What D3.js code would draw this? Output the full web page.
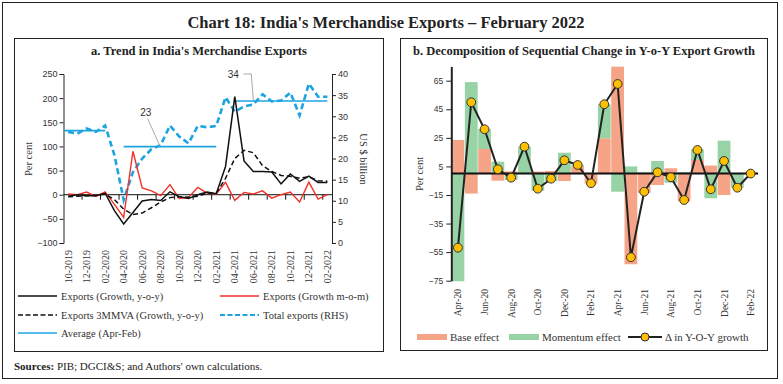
<!DOCTYPE html>
<html><head><meta charset="utf-8">
<script src="https://cdn.jsdelivr.net/npm/d3@7"></script>
<style>body{margin:0;background:#fff}svg{display:block}</style>
</head><body><svg id="c" width="783" height="384"></svg>
<script>
// ---------- Panel a data ----------
const monthsA = ["10-2019","11-2019","12-2019","01-2020","02-2020","03-2020","04-2020","05-2020","06-2020","07-2020","08-2020","09-2020","10-2020","11-2020","12-2020","01-2021","02-2021","03-2021","04-2021","05-2021","06-2021","07-2021","08-2021","09-2021","10-2021","11-2021","12-2021","01-2022","02-2022"];
const exportsYoY   = [-3, 0, -2, -2, 3, -33, -60.5, -37, -13, -10, -12, 6, -4, -8, 0, 5.5, 2, 58.5, 203, 70, 48, 48, 47, 22.5, 43, 27.5, 38.5, 25.5, 25.5];
const exportsMoM   = [1.4, 0, 5.5, -3.5, 6, -20, -47, 90, 14, 8, -2, 21, -8, -5.6, 15, 3.5, 1.4, 25.5, -11.7, 4.8, 1.4, 8, -7, 0, 5.6, -15, 26, -9, 0];
const exports3MMVA = [-4, -3, -2, -1, 1, -10, -30, -41, -38, -27, -15, -6, -4, -5, -3, 3, 3, 34, 75, 92, 87, 60, 48, 40, 38, 34, 37, 29, 28];
const totalExports = [26.3, 25.9, 27.1, 26.3, 27.8, 20.8, 10.2, 16.8, 20.0, 22.2, 23.2, 27.8, 25.2, 23.6, 27.7, 27.4, 27.7, 34.5, 31.1, 32.3, 32.8, 35.2, 33.5, 33.7, 35.6, 30.2, 37.7, 34.6, 34.6];
const avgFrom  = ["10-2019", "04-2020", "04-2021"];
const avgTo    = ["02-2020", "02-2021", "02-2022"];
const avgValue = [26.6, 22.8, 33.6];
const avgLabelMonth = ["08-2020", "06-2021"];
const avgLabelText  = ["23", "34"];
const yTicksL = [-100, -50, 0, 50, 100, 150, 200, 250];
const yTicksR = [0, 5, 10, 15, 20, 25, 30, 35, 40];

// ---------- Panel b data ----------
const monthsB = ["Apr-20","May-20","Jun-20","Jul-20","Aug-20","Sep-20","Oct-20","Nov-20","Dec-20","Jan-21","Feb-21","Mar-21","Apr-21","May-21","Jun-21","Jul-21","Aug-21","Sep-21","Oct-21","Nov-21","Dec-21","Jan-22","Feb-22"];
const baseEffect     = [23.5, -14, 17.2, -5, 1.5, 0, 1.4, 1.8, -5.2, 4.8, -7, 24.7, 74.8, -63.5, -13.5, -8, 3.7, -19.5, 9.5, 5.6, -15, 0, 0.5];
const momentumEffect = [-75.4, 64, 13.8, 8.3, -4.5, 18.8, -12, -5.4, 14.6, 1.2, 0.2, 23.8, -12.7, 5, 0.8, 8.8, -6.4, 1, 7.5, -17.3, 23, -9.9, -0.5];
const yoyChange      = [-51.9, 49.9, 31, 3, -2.9, 18.8, -10.6, -3.6, 9.3, 6, -6.8, 48.5, 62.7, -58.6, -12.7, 0.9, -2.6, -18.5, 16.5, -11, 8.8, -9.9, 0];
const yTicksB = [-75, -55, -35, -15, 5, 25, 45, 65];

const SERIF = "'Liberation Serif','DejaVu Serif',serif";
const SANS = "'Liberation Sans',Arial,sans-serif";

const svg = d3.select("#c");
svg.append("rect").attr("x",0).attr("y",0).attr("width",783).attr("height",384).attr("fill","#fff");
svg.append("rect").attr("x",2.5).attr("y",2.5).attr("width",775).attr("height",376).attr("fill","none").attr("stroke","#222").attr("stroke-width",1);
svg.append("text").attr("x",386).attr("y",28).attr("text-anchor","middle").attr("font-family",SERIF).attr("font-size",16.5).attr("font-weight","bold").attr("fill","#222")
  .text("Chart 18: India's Merchandise Exports – February 2022");
svg.append("rect").attr("x",14.5).attr("y",38.5).attr("width",369).attr("height",313).attr("fill","none").attr("stroke","#222");
svg.append("rect").attr("x",400.5).attr("y",38.5).attr("width",367).attr("height",312).attr("fill","none").attr("stroke","#222");
svg.append("text").attr("x",199).attr("y",55).attr("text-anchor","middle").attr("font-family",SERIF).attr("font-size",12.5).attr("font-weight","bold").attr("fill","#222")
  .text("a. Trend in India's Merchandise Exports");
svg.append("text").attr("x",584).attr("y",55).attr("text-anchor","middle").attr("font-family",SERIF).attr("font-size",12.5).attr("font-weight","bold").attr("fill","#222")
  .text("b. Decomposition of Sequential Change in Y-o-Y Export Growth");
const src = svg.append("text").attr("x",14).attr("y",370).attr("font-family",SERIF).attr("font-size",11).attr("fill","#222");
src.append("tspan").attr("font-weight","bold").text("Sources:");
src.append("tspan").text(" PIB; DGCI&S; and Authors' own calculations.");

// ================= Panel a =================
const xA = d3.scaleBand().domain(monthsA).range([63.5, 332]).padding(0);
const cx = m => xA(m) + xA.bandwidth()/2;
const yL = d3.scaleLinear().domain([-100, 250]).range([243, 74]);
const yR = d3.scaleLinear().domain([0, 40]).range([243, 74]);
const gA = svg.append("g");

function styleAxis(g, fs){
  g.selectAll("path.domain").attr("stroke","#222");
  g.selectAll(".tick line").attr("stroke","#222");
  g.selectAll(".tick text").attr("font-family",SANS).attr("font-size",fs).attr("fill","#333");
}
const axL = gA.append("g").attr("transform","translate(63.5,0)")
  .call(d3.axisLeft(yL).tickValues(yTicksL).tickSize(4).tickSizeOuter(4).tickPadding(2));
styleAxis(axL, 9);
const axR = gA.append("g").attr("transform","translate(332,0)")
  .call(d3.axisRight(yR).tickValues(yTicksR).tickSize(4).tickSizeOuter(4).tickPadding(2));
styleAxis(axR, 9);

// zero line with category ticks
gA.append("line").attr("x1",xA.range()[0]).attr("x2",xA.range()[1]).attr("y1",yL(0)).attr("y2",yL(0)).attr("stroke","#111").attr("stroke-width",1);
monthsA.forEach((m,i)=>{
  if(i>0 && i%2===0){
    gA.append("line").attr("x1",xA(m)).attr("x2",xA(m)).attr("y1",yL(0)).attr("y2",yL(0)+5).attr("stroke","#111");
  }
});
// x labels
monthsA.forEach((m,i)=>{
  if(i%2===0){
    gA.append("text").attr("transform",`translate(${cx(m)+3.5},250) rotate(-90)`).attr("text-anchor","end")
      .attr("font-family",SERIF).attr("font-size",10).attr("fill","#333").text(m);
  }
});
// axis titles
gA.append("text").attr("transform","translate(32,159) rotate(-90)").attr("text-anchor","middle").attr("font-family",SERIF).attr("font-size",10.5).attr("fill","#333").text("Per cent");
gA.append("text").attr("transform","translate(360,159) rotate(90)").attr("text-anchor","middle").attr("font-family",SERIF).attr("font-size",10.5).attr("fill","#333").text("US $ billion");

const BLUE = "#1DA4E0", RED = "#F0322A";
// average segments
avgValue.forEach((v,i)=>{
  const i0 = monthsA.indexOf(avgFrom[i]);
  const x1 = i0===0 ? xA.range()[0] : cx(avgFrom[i]);
  gA.append("line").attr("x1",x1).attr("x2",cx(avgTo[i])).attr("y1",yR(v)).attr("y2",yR(v)).attr("stroke",BLUE).attr("stroke-width",1.6);
});
const lineOf = (arr, sc) => d3.line().x((d,i)=>cx(monthsA[i])).y(d=>sc(d))(arr);
gA.append("path").attr("d",lineOf(totalExports,yR)).attr("fill","none").attr("stroke",BLUE).attr("stroke-width",2.6).attr("stroke-dasharray","6,3.5");
gA.append("path").attr("d",lineOf(exportsMoM,yL)).attr("fill","none").attr("stroke",RED).attr("stroke-width",1.4);
gA.append("path").attr("d",lineOf(exports3MMVA,yL)).attr("fill","none").attr("stroke","#111").attr("stroke-width",1.5).attr("stroke-dasharray","5,3");
gA.append("path").attr("d",lineOf(exportsYoY,yL)).attr("fill","none").attr("stroke","#111").attr("stroke-width",1.5);

// annotations
const ann0 = {x: cx(avgLabelMonth[0]), y: yR(avgValue[1])};
gA.append("line").attr("x1",ann0.x-13).attr("y1",ann0.y-28).attr("x2",ann0.x-1).attr("y2",ann0.y-1).attr("stroke","#aaa").attr("stroke-width",1);
gA.append("text").attr("x",ann0.x-15).attr("y",ann0.y-31).attr("text-anchor","middle").attr("font-family",SANS).attr("font-size",10).attr("fill","#333").text(avgLabelText[0]);
const ann1 = {x: cx(avgLabelMonth[1]), y: yR(avgValue[2])};
gA.append("path").attr("d",`M${ann1.x-10},${ann1.y-27}H${ann1.x-2}L${ann1.x},${ann1.y-1}`).attr("fill","none").attr("stroke","#aaa").attr("stroke-width",1);
gA.append("text").attr("x",ann1.x-20).attr("y",ann1.y-23).attr("text-anchor","middle").attr("font-family",SANS).attr("font-size",10).attr("fill","#333").text(avgLabelText[1]);

// legend a
const legA = [
  {t:"Exports (Growth, y-o-y)", c:"#111", d:null, w:1.6, col:0, row:0},
  {t:"Exports (Growth m-o-m)", c:RED, d:null, w:1.6, col:1, row:0},
  {t:"Exports 3MMVA (Growth, y-o-y)", c:"#111", d:"5,2.5", w:1.6, col:0, row:1},
  {t:"Total exports (RHS)", c:BLUE, d:"5,2.5", w:1.8, col:1, row:1},
  {t:"Average (Apr-Feb)", c:BLUE, d:null, w:1.6, col:0, row:2}
];
const legColX = [18, 220], legRowY = [296, 315, 333];
legA.forEach(l=>{
  const x = legColX[l.col], y = legRowY[l.row];
  gA.append("line").attr("x1",x).attr("x2",x+39).attr("y1",y).attr("y2",y).attr("stroke",l.c).attr("stroke-width",l.w).attr("stroke-dasharray",l.d);
  gA.append("text").attr("x",x+43).attr("y",y+3.5).attr("font-family",SERIF).attr("font-size",10.5).attr("fill","#333").text(l.t);
});

// ================= Panel b =================
const xB = d3.scaleBand().domain(monthsB).range([451.3, 757.3]).paddingInner(0.04).paddingOuter(0.02);
const yB = d3.scaleLinear().domain([-75, 75]).range([280.7, 66.4]);
const gB = svg.append("g");
const rows = monthsB.map((m,i)=>({month:m, base:baseEffect[i], momentum:momentumEffect[i]}));
const stack = d3.stack().keys(["base","momentum"]).offset(d3.stackOffsetDiverging)(rows);
const BASEC = "#F6A487", MOMC = "#97D3A4";
const colors = {base:BASEC, momentum:MOMC};
stack.forEach(s=>{
  gB.append("g").selectAll("rect").data(s).join("rect")
    .attr("x",d=>xB(d.data.month)).attr("width",xB.bandwidth())
    .attr("y",d=>yB(Math.max(d[0],d[1]))).attr("height",d=>Math.abs(yB(d[0])-yB(d[1])))
    .attr("fill",colors[s.key]);
});
const axB = gB.append("g").attr("transform","translate(451.3,0)")
  .call(d3.axisLeft(yB).tickValues(yTicksB).tickSize(5).tickSizeOuter(0).tickPadding(3));
styleAxis(axB, 8.5);
axB.select("path.domain").attr("stroke-width",2);
gB.append("line").attr("x1",451.3).attr("x2",758).attr("y1",yB(0)).attr("y2",yB(0)).attr("stroke","#111").attr("stroke-width",2);
const cxB = m => xB(m) + xB.bandwidth()/2;
gB.append("path").attr("d", d3.line().x((d,i)=>cxB(monthsB[i])).y(d=>yB(d))(yoyChange)).attr("fill","none").attr("stroke","#222").attr("stroke-width",2);
gB.selectAll("circle.dot").data(yoyChange).join("circle").attr("class","dot")
  .attr("cx",(d,i)=>cxB(monthsB[i])).attr("cy",d=>yB(d)).attr("r",4.4).attr("fill","#FFC000").attr("stroke","#333").attr("stroke-width",1);
monthsB.forEach((m,i)=>{
  if(i%2===0){
    gB.append("text").attr("transform",`translate(${cxB(m)+3.5},289) rotate(-90)`).attr("text-anchor","end")
      .attr("font-family",SERIF).attr("font-size",9.5).attr("fill","#333").text(m);
  }
});
gB.append("text").attr("transform","translate(423,174) rotate(-90)").attr("text-anchor","middle").attr("font-family",SERIF).attr("font-size",10.5).attr("fill","#333").text("Per cent");

// legend b
const legY = 337;
gB.append("rect").attr("x",417).attr("y",legY-3).attr("width",30).attr("height",6).attr("fill",BASEC);
gB.append("text").attr("x",450).attr("y",legY+3.5).attr("font-family",SERIF).attr("font-size",11).attr("fill","#333").text("Base effect");
gB.append("rect").attr("x",509).attr("y",legY-3).attr("width",30).attr("height",6).attr("fill",MOMC);
gB.append("text").attr("x",542).attr("y",legY+3.5).attr("font-family",SERIF).attr("font-size",11).attr("fill","#333").text("Momentum effect");
gB.append("line").attr("x1",628).attr("x2",662).attr("y1",legY).attr("y2",legY).attr("stroke","#222").attr("stroke-width",2);
gB.append("circle").attr("cx",645).attr("cy",legY).attr("r",4).attr("fill","#FFC000").attr("stroke","#333");
gB.append("text").attr("x",665).attr("y",legY+3.5).attr("font-family",SERIF).attr("font-size",11).attr("fill","#333").text("Δ in Y-O-Y growth");
</script>
</body></html>
